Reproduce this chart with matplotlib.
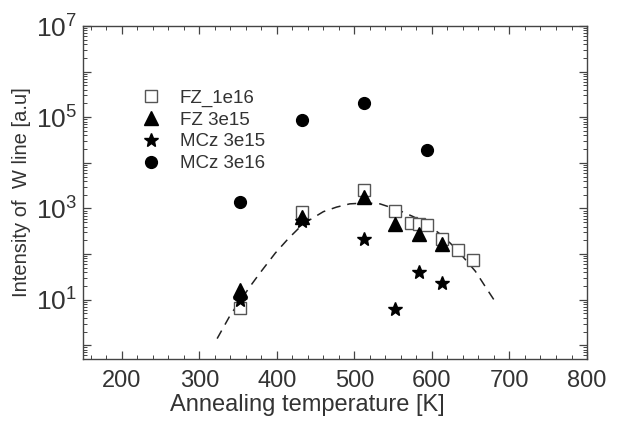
import matplotlib
matplotlib.use("Agg")
import matplotlib.pyplot as plt
import numpy as np
from matplotlib.ticker import LogLocator, MultipleLocator, FuncFormatter, NullFormatter

plt.rcParams['font.family'] = ['Liberation Sans', 'DejaVu Sans']

# === Data ===
fz1e16_T = [353, 433, 513, 553, 573, 583, 593, 613, 633, 653]
fz1e16_I = [6.6, 815, 2550, 870, 490, 455, 425, 215, 123, 74]

fz3e15_T = [353, 433, 513, 553, 583, 613]
fz3e15_I = [16, 660, 1740, 460, 275, 162]

mcz3e15_T = [353, 433, 513, 553, 583, 613]
mcz3e15_I = [9.7, 540, 210, 6.3, 41, 23]

mcz3e16_T = [353, 433, 513, 593]
mcz3e16_I = [1350, 89000, 200000, 19500]

# dashed guide curve
fit_T = [323, 340, 365, 378, 398, 415, 434, 460, 477, 494, 515, 533, 555, 576, 598, 615, 632, 656, 670, 683]
fit_I = [1.4, 4.6, 19, 38, 105, 220, 460, 850, 1070, 1260, 1320, 1260, 950, 660, 400, 240, 126, 42, 18, 8.3]

fig = plt.figure(figsize=(6.17, 4.25), dpi=100)
ax = fig.add_axes([0.1345, 0.1553, 0.8169, 0.7835])

ax.plot(fit_T, fit_I, linestyle=(0, (6, 4.5)), color='#222222', lw=1.1, zorder=1)

ax.plot(fz1e16_T, fz1e16_I, 's', ms=8.5, mfc='white', mec='#555555', mew=1.0,
        linestyle='none', label='FZ_1e16', zorder=2)
ax.plot(fz3e15_T, fz3e15_I, '^', ms=9.5, color='black', linestyle='none',
        label='FZ 3e15', zorder=3)
ax.plot(mcz3e15_T, mcz3e15_I, '*', ms=10.5, color='black', linestyle='none',
        label='MCz 3e15', zorder=4)
ax.plot(mcz3e16_T, mcz3e16_I, 'o', ms=8.5, color='black', linestyle='none',
        label='MCz 3e16', zorder=4)

ax.set_yscale('log')
ax.set_xlim(150, 800)
ax.set_ylim(0.5, 1e7)

ax.xaxis.set_major_locator(MultipleLocator(100))
ax.xaxis.set_minor_locator(MultipleLocator(20))
ax.yaxis.set_major_locator(LogLocator(base=10, numticks=20))
ax.yaxis.set_minor_locator(LogLocator(base=10, subs=np.arange(2, 10), numticks=20))
ax.yaxis.set_minor_formatter(NullFormatter())


def odd_decades(v, pos):
    e = int(round(np.log10(v)))
    if e % 2 == 1:
        return r'$\mathregular{10^{%d}}$' % e
    return ''


ax.yaxis.set_major_formatter(FuncFormatter(odd_decades))

text_col = '#333333'
ax.tick_params(which='both', direction='in', top=True, right=True, color='#444444')
ax.tick_params(which='major', length=6, width=0.9, labelcolor=text_col)
ax.tick_params(which='minor', length=3, width=0.7)
ax.tick_params(axis='x', which='major', labelsize=17, pad=8)
ax.tick_params(axis='y', which='major', labelsize=19, pad=4)
for s in ax.spines.values():
    s.set_color('#444444')
    s.set_linewidth(1.0)

ax.set_xlabel('Annealing temperature [K]', fontsize=17, color=text_col)
ax.xaxis.set_label_coords(0.446, -0.105)
ax.set_ylabel('Intensity of  W line [a.u]', fontsize=14.5, color=text_col, labelpad=4)

ax.legend(loc='upper left', bbox_to_anchor=(0.08, 0.86), frameon=False, fontsize=13.5,
          handletextpad=0.9, labelspacing=0.25, handlelength=1.2, labelcolor=text_col)

plt.savefig('out.png', dpi=100)
